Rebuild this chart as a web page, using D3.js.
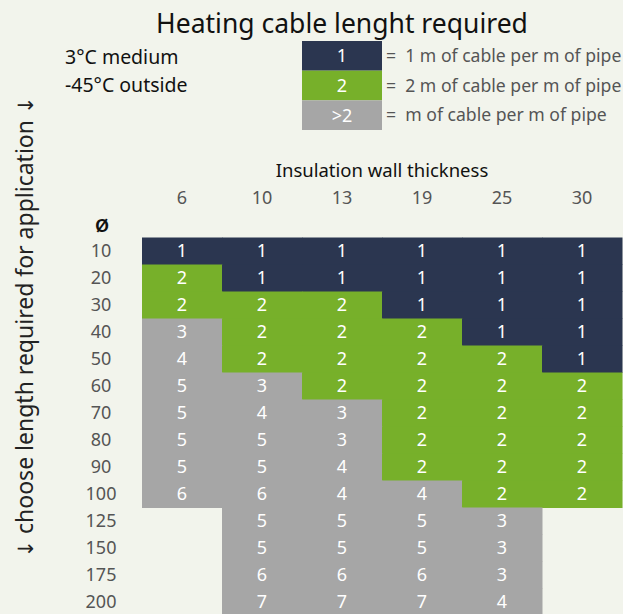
<!DOCTYPE html>
<html>
<head>
<meta charset="utf-8">
<script src="https://cdn.jsdelivr.net/npm/d3@7"></script>
<style>
  html, body { margin: 0; padding: 0; background: #f2f4ec; }
  svg { display: block; font-family: "Noto Sans", "Open Sans", sans-serif; }
</style>
</head>
<body>
<svg id="chart" width="623" height="614"></svg>
<script>
// insulation wall thickness (columns) and pipe diameter (rows)
var thickness = ["6", "10", "13", "19", "25", "30"];
var diameters = ["10", "20", "30", "40", "50", "60", "70", "80", "90", "100", "125", "150", "175", "200"];

// metres of cable per metre of pipe, one list per diameter (null = no cell)
var d10  = [1, 1, 1, 1, 1, 1];
var d20  = [2, 1, 1, 1, 1, 1];
var d30  = [2, 2, 2, 1, 1, 1];
var d40  = [3, 2, 2, 2, 1, 1];
var d50  = [4, 2, 2, 2, 2, 1];
var d60  = [5, 3, 2, 2, 2, 2];
var d70  = [5, 4, 3, 2, 2, 2];
var d80  = [5, 5, 3, 2, 2, 2];
var d90  = [5, 5, 4, 2, 2, 2];
var d100 = [6, 6, 4, 4, 2, 2];
var d125 = [null, 5, 5, 5, 3, null];
var d150 = [null, 5, 5, 5, 3, null];
var d175 = [null, 6, 6, 6, 3, null];
var d200 = [null, 7, 7, 7, 4, null];
var values = [d10, d20, d30, d40, d50, d60, d70, d80, d90, d100, d125, d150, d175, d200];

var legendKeys = ["1", "2", ">2"];
var legendText = ["=  1 m of cable per m of pipe", "=  2 m of cable per m of pipe", "=  m of cable per m of pipe"];

var colNavy = "#2b3650", colGreen = "#77b02a", colGray = "#a6a6a6";
function cellColor(v) { return v === 1 ? colNavy : (v === 2 ? colGreen : colGray); }

var svg = d3.select("#chart");

// title
svg.append("text")
    .attr("x", 342).attr("y", 33)
    .attr("text-anchor", "middle")
    .attr("font-size", 26.5)
    .attr("fill", "#111")
    .text("Heating cable lenght required");

// conditions
svg.append("text").attr("x", 65).attr("y", 64)
    .attr("font-size", 19.5).attr("fill", "#111").text("3°C medium");
svg.append("text").attr("x", 65).attr("y", 92)
    .attr("font-size", 19.5).attr("fill", "#111").text("-45°C outside");

// legend
var ly = d3.scaleBand().domain(legendKeys).range([41, 130]);
var legend = svg.append("g").selectAll("g")
    .data(legendKeys)
    .enter().append("g")
    .attr("transform", function (d) { return "translate(302," + ly(d) + ")"; });

legend.append("rect")
    .attr("width", 80)
    .attr("height", ly.bandwidth())
    .attr("fill", function (d, i) { return [colNavy, colGreen, colGray][i]; });

legend.append("text")
    .attr("x", 40).attr("y", ly.bandwidth() / 2)
    .attr("dy", "0.36em")
    .attr("text-anchor", "middle")
    .attr("font-size", 18)
    .attr("fill", "#fff")
    .text(function (d) { return d; });

legend.append("text")
    .attr("x", 84).attr("y", ly.bandwidth() / 2)
    .attr("dy", "0.36em")
    .attr("font-size", 17.6)
    .attr("fill", "#555")
    .style("white-space", "pre")
    .text(function (d, i) { return legendText[i]; });

// grid scales
var x = d3.scaleBand().domain(thickness).range([142, 622]);
var y = d3.scaleBand().domain(diameters).range([237.5, 237.5 + 27 * diameters.length]);

// axis titles
svg.append("text")
    .attr("x", 382).attr("y", 177)
    .attr("text-anchor", "middle")
    .attr("font-size", 18.5)
    .attr("fill", "#111")
    .text("Insulation wall thickness");

svg.append("text")
    .attr("x", 102).attr("y", 232)
    .attr("text-anchor", "middle")
    .attr("font-size", 24)
    .attr("font-weight", 500)
    .attr("fill", "#111")
    .text("ø");

var side = svg.append("text")
    .attr("transform", "translate(33,327) rotate(-90)")
    .attr("text-anchor", "middle")
    .attr("font-size", 23)
    .attr("fill", "#222")
    .style("white-space", "pre");
side.append("tspan").attr("font-family", "DejaVu Sans").attr("font-size", 21).text("↓");
side.append("tspan").text(" choose length required for application ");
side.append("tspan").attr("font-family", "DejaVu Sans").attr("font-size", 21).text("↓");

// column labels
svg.append("g").selectAll("text")
    .data(thickness)
    .enter().append("text")
    .attr("x", function (d) { return x(d) + x.bandwidth() / 2; })
    .attr("y", 204)
    .attr("text-anchor", "middle")
    .attr("font-size", 18)
    .attr("fill", "#555")
    .text(function (d) { return d; });

// row labels
svg.append("g").selectAll("text")
    .data(diameters)
    .enter().append("text")
    .attr("x", 101)
    .attr("y", function (d) { return y(d) + y.bandwidth() / 2; })
    .attr("dy", "0.36em")
    .attr("text-anchor", "middle")
    .attr("font-size", 18)
    .attr("fill", "#555")
    .text(function (d) { return d; });

// cells
var cells = [];
values.forEach(function (row, r) {
    row.forEach(function (v, c) {
        if (v !== null) cells.push({ row: diameters[r], col: thickness[c], v: v });
    });
});

var cell = svg.append("g").selectAll("g")
    .data(cells)
    .enter().append("g");

cell.append("rect")
    .attr("x", function (d) { return x(d.col); })
    .attr("y", function (d) { return y(d.row); })
    .attr("width", x.bandwidth() + 0.5)
    .attr("height", y.bandwidth() + 0.5)
    .attr("fill", function (d) { return cellColor(d.v); });

cell.append("text")
    .attr("x", function (d) { return x(d.col) + x.bandwidth() / 2; })
    .attr("y", function (d) { return y(d.row) + y.bandwidth() / 2; })
    .attr("dy", "0.36em")
    .attr("text-anchor", "middle")
    .attr("font-size", 18)
    .attr("fill", "#fff")
    .text(function (d) { return d.v; });
</script>
</body>
</html>
